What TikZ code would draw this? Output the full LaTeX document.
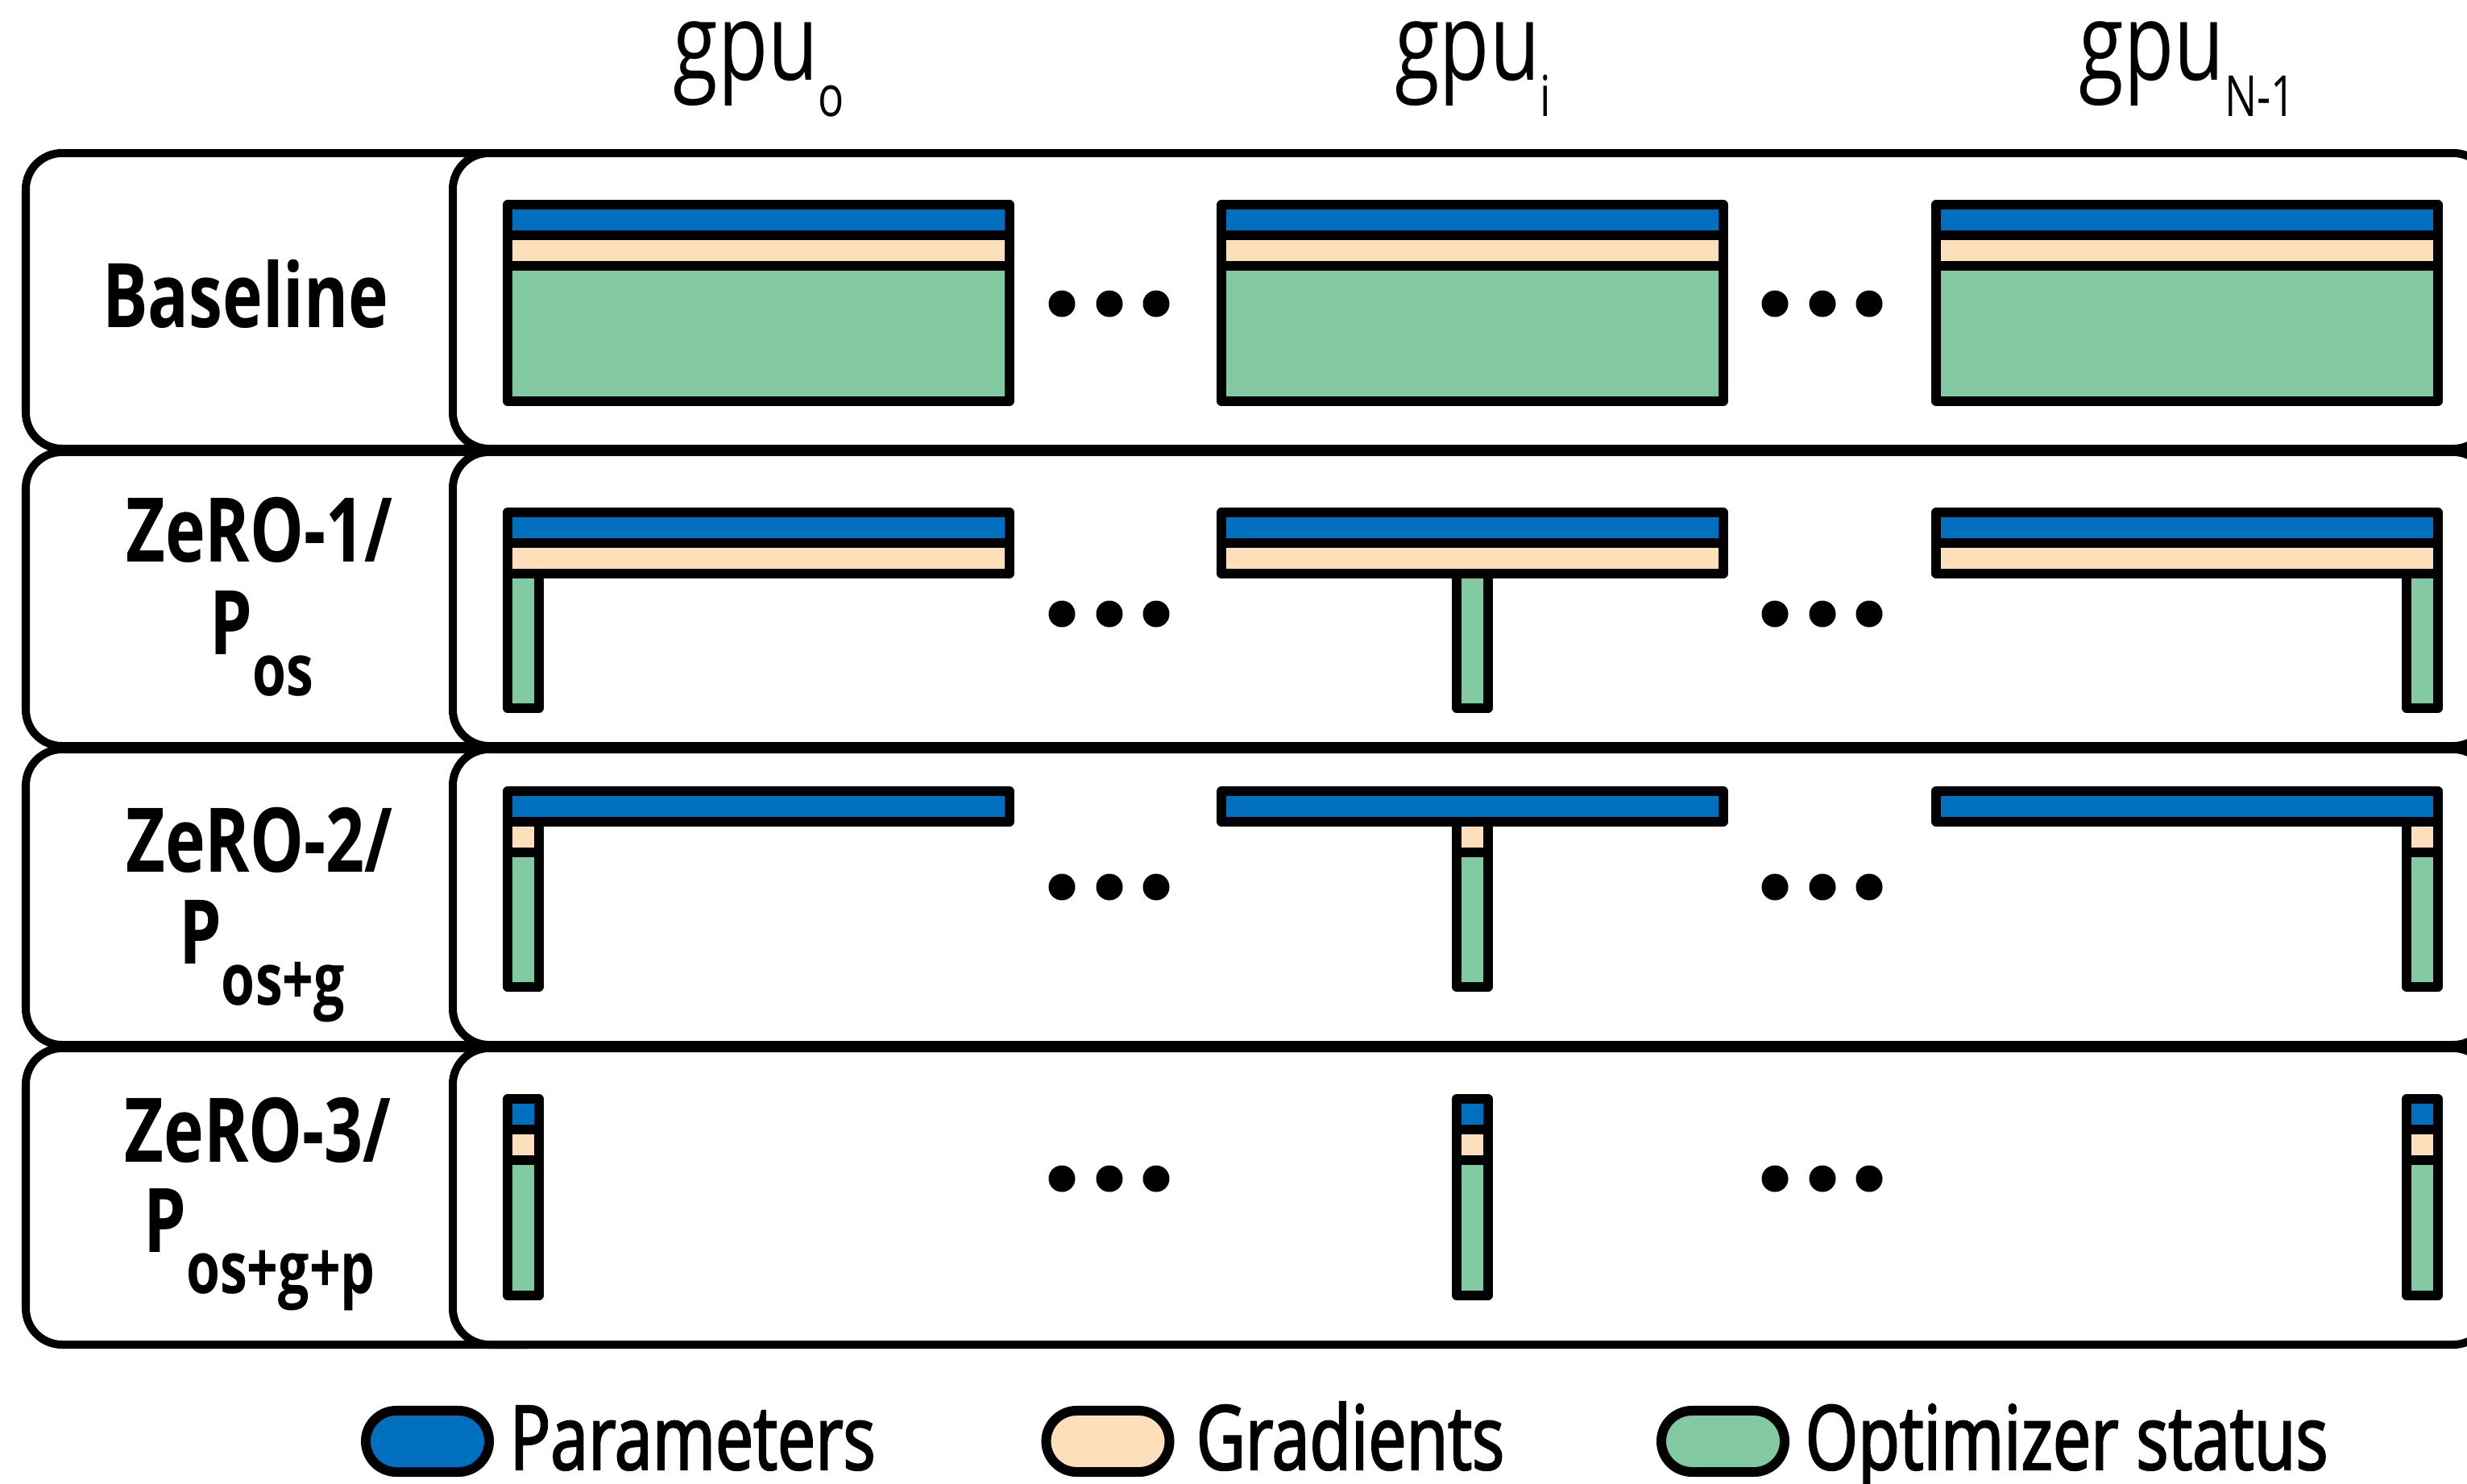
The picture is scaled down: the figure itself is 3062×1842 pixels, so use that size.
\documentclass[tikz,border=0pt]{standalone}
\usepackage{fontspec}
\setmainfont{Open Sans}[FakeStretch=0.76]
\newfontfamily\legfont{Open Sans}[FakeStretch=0.76, FakeBold=2]
\definecolor{gblue}{RGB}{0,112,190}
\definecolor{gpeach}{RGB}{253,223,188}
\definecolor{ggreen}{RGB}{130,200,161}
\newcommand\rsubx[1]{\raisebox{-0.51cm}{\fontsize{25.4}{30}\selectfont #1}}
\newcommand\gsubx[1]{\raisebox{-0.45cm}{\fontsize{20}{24}\selectfont #1}}
\tikzset{
 rowbox/.style={draw=black, line width=0.1cm, rounded corners=0.45cm},
 mainbox/.style={rowbox, fill=white},
 blk/.style={draw=black, line width=0.115cm, line join=round},
 pbar/.style={blk, fill=gblue},
 gbar/.style={blk, fill=gpeach},
 obar/.style={blk, fill=ggreen},
 blab/.style={inner sep=0pt, anchor=base, font=\fontsize{31.5}{36}\selectfont\bfseries},
 gpulab/.style={inner sep=0pt, anchor=base, font=\fontsize{38}{44}\selectfont},
 pill/.style={draw=black, line width=0.12cm, minimum width=1.53cm, minimum height=0.76cm, rounded corners=0.38cm, inner sep=0pt},
 legtext/.style={inner sep=0pt, anchor=base west, font=\fontsize{31.5}{36}\selectfont\legfont},
}
\begin{document}
\begin{tikzpicture}[x=0.01cm,y=-0.01cm]
\useasboundingbox[fill=white] (0,0) rectangle (3062,1842);

% GPU headers
\node[gpulab] (g0) at (942,99) {gpu\gsubx{o}};
\node[gpulab] (gi) at (1828,99) {gpu\gsubx{i}};
\node[gpulab] (gn) at (2715,99) {gpu\gsubx{N-1}};

% Row frames
\draw[rowbox] (32,190) rectangle (700,557);
\draw[mainbox] (562,190) rectangle (3090,557);
\draw[rowbox] (32,561) rectangle (700,926);
\draw[mainbox] (562,561) rectangle (3090,926);
\draw[rowbox] (32,930) rectangle (700,1297);
\draw[mainbox] (562,930) rectangle (3090,1297);
\draw[rowbox] (32,1301) rectangle (700,1669);
\draw[mainbox] (562,1301) rectangle (3090,1669);

% Row labels
\node[blab] (l1) at (305,406) {Baseline};
\node[blab] (l2a) at (322,697) {ZeRO-1/};
\node[blab] (l2b) at (325,812) {P\rsubx{os}};
\node[blab] (l3a) at (322,1082) {ZeRO-2/};
\node[blab] (l3b) at (325,1196) {P\rsubx{os+g}};
\node[blab] (l4a) at (320,1442) {ZeRO-3/};
\node[blab] (l4b) at (322,1554) {P\rsubx{os+g+p}};

% Row 1: Baseline
\foreach \x in {630,1516,2403}{
  \draw[obar] (\x,330) rectangle ++(623,168);
  \draw[gbar] (\x,292) rectangle ++(623,38);
  \draw[pbar] (\x,254) rectangle ++(623,38);
}
% Row 2: ZeRO-1
\foreach \x/\c in {630/630,1516/1808,2403/2987}{
  \draw[obar] (\c,712) rectangle ++(39,167);
  \draw[gbar] (\x,674) rectangle ++(623,38);
  \draw[pbar] (\x,636) rectangle ++(623,38);
}
% Row 3: ZeRO-2
\foreach \x/\c in {630/630,1516/1808,2403/2987}{
  \draw[obar] (\c,1058) rectangle ++(39,167);
  \draw[gbar] (\c,1020) rectangle ++(39,38);
  \draw[pbar] (\x,982) rectangle ++(623,38);
}
% Row 4: ZeRO-3
\foreach \c in {630,1808,2987}{
  \draw[obar] (\c,1440) rectangle ++(39,168);
  \draw[gbar] (\c,1402) rectangle ++(39,38);
  \draw[pbar] (\c,1364) rectangle ++(39,38);
}

% Ellipsis dots
\foreach \y in {377,762,1101,1463}{
  \foreach \x in {1318,1377,1435,2203,2262,2320}{
    \fill[black] (\x,\y) circle (0.165cm);
  }
}

% Legend
\node[pill, fill=gblue] (kp) at (530.5,1789) {};
\node[legtext] (tp) at (632,1824) {Parameters};
\node[pill, fill=gpeach] (kg) at (1375,1789) {};
\node[legtext] (tg) at (1484,1824) {Gradients};
\node[pill, fill=ggreen] (ko) at (2138.5,1789) {};
\node[legtext] (to) at (2240,1824) {Optimizer status};
\end{tikzpicture}
\end{document}
